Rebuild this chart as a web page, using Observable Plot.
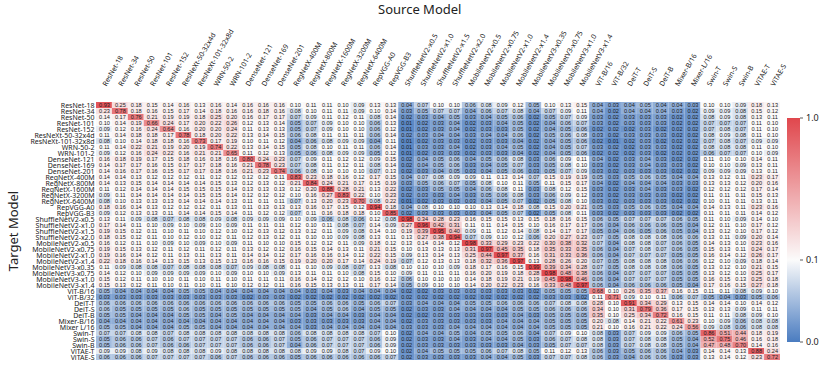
<!DOCTYPE html>
<html><head><meta charset="utf-8">
<script src="https://cdn.jsdelivr.net/npm/d3@7"></script>
<script src="https://cdn.jsdelivr.net/npm/@observablehq/plot@0.6"></script>
<style>
body{margin:0;background:#fff;}
#wrap{position:relative;width:830px;height:375px;font-family:"Noto Sans",sans-serif;overflow:hidden;}
.ttl{position:absolute;font-size:13px;color:#222;white-space:nowrap;}
</style></head><body><div id="wrap"></div>
<script>
const sources = ["ResNet-18","ResNet-34","ResNet-50","ResNet-101","ResNet-152","ResNeXt-50-32x4d","ResNeXt-101-32x8d","WRN-50-2","WRN-101-2","DenseNet-121","DenseNet-169","DenseNet-201","RegNetX-400M","RegNetX-800M","RegNetX-1600M","RegNetX-3200M","RegNetX-6400M","RepVGG-A0","RepVGG-B3","ShuffleNetV2-x0.5","ShuffleNetV2-x1.0","ShuffleNetV2-x1.5","ShuffleNetV2-x2.0","MobileNetV2-x0.5","MobileNetV2-x0.75","MobileNetV2-x1.0","MobileNetV2-x1.4","MobileNetV3-x0.35","MobileNetV3-x0.75","MobileNetV3-x1.0","MobileNetV3-x1.4","ViT-B/16","ViT-B/32","DeiT-T","DeiT-S","DeiT-B","Mixer-B/16","Mixer-L/16","Swin-T","Swin-S","Swin-B","ViTAE-T","ViTAE-S"];
const targets = ["ResNet-18","ResNet-34","ResNet-50","ResNet-101","ResNet-152","ResNeXt-50-32x4d","ResNeXt-101-32x8d","WRN-50-2","WRN-101-2","DenseNet-121","DenseNet-169","DenseNet-201","RegNetX-400M","RegNetX-800M","RegNetX-1600M","RegNetX-3200M","RegNetX-6400M","RepVGG-A0","RepVGG-B3","ShuffleNetV2-x0.5","ShuffleNetV2-x1.0","ShuffleNetV2-x1.5","ShuffleNetV2-x2.0","MobileNetV2-x0.5","MobileNetV2-x0.75","MobileNetV2-x1.0","MobileNetV2-x1.4","MobileNetV3-x0.35","MobileNetV3-x0.75","MobileNetV3-x1.0","MobileNetV3-x1.4","ViT-B/16","ViT-B/32","DeiT-T","DeiT-S","DeiT-B","Mixer-B/16","Mixer L/16","Swin-T","Swin-S","Swin-B","ViTAE-T","ViTAE-S"];

// one row per target model, one value per source model
const matrix = [
[0.93,0.25,0.18,0.15,0.14,0.16,0.13,0.16,0.14,0.16,0.16,0.16,0.10,0.11,0.11,0.10,0.09,0.13,0.13,0.04,0.07,0.10,0.10,0.06,0.08,0.09,0.12,0.05,0.10,0.13,0.15,0.04,0.03,0.04,0.05,0.04,0.04,0.03,0.10,0.10,0.09,0.18,0.13],
[0.23,0.78,0.18,0.16,0.15,0.17,0.14,0.18,0.16,0.16,0.18,0.16,0.08,0.10,0.11,0.11,0.09,0.10,0.14,0.03,0.05,0.07,0.07,0.04,0.06,0.07,0.08,0.04,0.07,0.09,0.11,0.04,0.02,0.04,0.04,0.04,0.03,0.02,0.09,0.09,0.08,0.15,0.12],
[0.14,0.17,0.76,0.21,0.19,0.19,0.18,0.25,0.20,0.16,0.17,0.17,0.07,0.09,0.11,0.12,0.11,0.08,0.14,0.02,0.03,0.04,0.05,0.03,0.04,0.05,0.06,0.02,0.05,0.07,0.09,0.03,0.02,0.03,0.03,0.03,0.02,0.02,0.08,0.09,0.08,0.13,0.11],
[0.10,0.14,0.19,0.66,0.24,0.17,0.20,0.22,0.26,0.12,0.13,0.14,0.05,0.07,0.09,0.10,0.10,0.06,0.13,0.01,0.02,0.03,0.04,0.02,0.03,0.04,0.05,0.02,0.04,0.06,0.07,0.03,0.02,0.03,0.03,0.03,0.02,0.02,0.07,0.07,0.07,0.11,0.10],
[0.09,0.12,0.16,0.24,0.64,0.16,0.20,0.20,0.24,0.11,0.13,0.13,0.05,0.07,0.09,0.10,0.10,0.06,0.12,0.01,0.02,0.03,0.04,0.02,0.03,0.03,0.05,0.02,0.04,0.05,0.06,0.02,0.02,0.02,0.03,0.02,0.02,0.02,0.07,0.08,0.07,0.11,0.10],
[0.11,0.14,0.18,0.18,0.17,0.78,0.18,0.20,0.22,0.13,0.14,0.15,0.06,0.08,0.11,0.11,0.11,0.06,0.14,0.02,0.03,0.04,0.04,0.03,0.04,0.04,0.06,0.02,0.05,0.06,0.08,0.03,0.02,0.03,0.03,0.03,0.02,0.02,0.08,0.09,0.08,0.11,0.10],
[0.08,0.10,0.14,0.18,0.18,0.16,0.73,0.17,0.19,0.10,0.11,0.12,0.04,0.06,0.08,0.09,0.09,0.04,0.11,0.01,0.02,0.03,0.03,0.02,0.03,0.03,0.04,0.02,0.04,0.05,0.06,0.02,0.01,0.02,0.03,0.02,0.02,0.02,0.07,0.08,0.07,0.09,0.09],
[0.11,0.14,0.22,0.21,0.19,0.20,0.19,0.74,0.22,0.13,0.14,0.15,0.05,0.08,0.10,0.11,0.11,0.06,0.14,0.01,0.03,0.03,0.04,0.02,0.03,0.04,0.05,0.02,0.04,0.05,0.07,0.03,0.02,0.02,0.03,0.03,0.02,0.02,0.08,0.08,0.08,0.11,0.10],
[0.09,0.12,0.16,0.24,0.22,0.16,0.21,0.21,0.65,0.11,0.12,0.13,0.05,0.06,0.08,0.09,0.09,0.05,0.12,0.01,0.02,0.03,0.03,0.02,0.03,0.03,0.04,0.02,0.04,0.05,0.06,0.02,0.02,0.02,0.03,0.02,0.02,0.02,0.06,0.07,0.07,0.10,0.09],
[0.16,0.18,0.19,0.17,0.15,0.18,0.16,0.18,0.16,0.80,0.24,0.23,0.07,0.09,0.11,0.12,0.12,0.09,0.15,0.02,0.04,0.05,0.06,0.04,0.05,0.06,0.08,0.03,0.06,0.09,0.11,0.04,0.02,0.03,0.04,0.03,0.02,0.02,0.11,0.10,0.10,0.14,0.11],
[0.14,0.17,0.17,0.16,0.15,0.17,0.17,0.18,0.16,0.21,0.78,0.23,0.07,0.08,0.11,0.12,0.11,0.08,0.14,0.02,0.04,0.05,0.06,0.03,0.04,0.05,0.07,0.03,0.05,0.08,0.10,0.03,0.02,0.03,0.04,0.03,0.03,0.02,0.10,0.10,0.09,0.13,0.11],
[0.14,0.16,0.17,0.16,0.15,0.17,0.17,0.18,0.16,0.21,0.23,0.74,0.06,0.08,0.10,0.10,0.10,0.07,0.13,0.02,0.03,0.04,0.05,0.03,0.04,0.05,0.06,0.03,0.05,0.07,0.09,0.03,0.02,0.03,0.03,0.03,0.02,0.02,0.09,0.09,0.09,0.13,0.11],
[0.14,0.14,0.13,0.12,0.12,0.12,0.11,0.12,0.12,0.12,0.12,0.11,0.83,0.23,0.18,0.16,0.12,0.17,0.15,0.04,0.07,0.08,0.09,0.09,0.11,0.13,0.14,0.07,0.15,0.19,0.19,0.05,0.03,0.05,0.06,0.05,0.04,0.04,0.13,0.12,0.11,0.23,0.17],
[0.14,0.13,0.15,0.14,0.14,0.14,0.14,0.15,0.13,0.12,0.13,0.12,0.21,0.84,0.24,0.21,0.17,0.15,0.19,0.03,0.05,0.06,0.07,0.05,0.08,0.10,0.11,0.05,0.11,0.15,0.17,0.04,0.02,0.04,0.04,0.04,0.03,0.03,0.13,0.13,0.12,0.20,0.16],
[0.11,0.12,0.14,0.14,0.14,0.15,0.15,0.15,0.14,0.13,0.13,0.13,0.12,0.20,0.88,0.28,0.21,0.13,0.22,0.02,0.03,0.05,0.05,0.04,0.06,0.08,0.11,0.03,0.08,0.12,0.15,0.03,0.02,0.03,0.04,0.03,0.03,0.02,0.12,0.12,0.12,0.17,0.14],
[0.09,0.11,0.14,0.14,0.14,0.14,0.15,0.15,0.14,0.12,0.12,0.12,0.10,0.16,0.27,0.83,0.22,0.10,0.23,0.02,0.03,0.03,0.04,0.03,0.05,0.06,0.08,0.03,0.06,0.09,0.12,0.03,0.02,0.03,0.03,0.03,0.02,0.02,0.11,0.11,0.11,0.15,0.13],
[0.08,0.10,0.13,0.13,0.13,0.14,0.14,0.14,0.13,0.11,0.11,0.11,0.07,0.13,0.20,0.23,0.70,0.08,0.22,0.01,0.02,0.03,0.03,0.03,0.04,0.05,0.07,0.02,0.05,0.08,0.10,0.03,0.02,0.03,0.03,0.03,0.02,0.02,0.10,0.11,0.11,0.13,0.11],
[0.18,0.16,0.14,0.13,0.12,0.12,0.12,0.11,0.13,0.11,0.13,0.13,0.13,0.16,0.17,0.15,0.12,0.94,0.18,0.04,0.08,0.10,0.10,0.10,0.13,0.14,0.18,0.08,0.15,0.20,0.21,0.05,0.03,0.05,0.06,0.05,0.04,0.04,0.14,0.13,0.11,0.23,0.16],
[0.09,0.12,0.13,0.13,0.11,0.14,0.14,0.15,0.14,0.11,0.12,0.12,0.07,0.11,0.16,0.18,0.18,0.10,0.85,0.02,0.03,0.03,0.03,0.03,0.04,0.05,0.07,0.02,0.05,0.08,0.11,0.03,0.02,0.03,0.03,0.03,0.02,0.02,0.11,0.11,0.11,0.14,0.12],
[0.13,0.11,0.09,0.08,0.07,0.08,0.08,0.09,0.08,0.09,0.09,0.09,0.10,0.09,0.06,0.08,0.06,0.12,0.08,0.98,0.34,0.28,0.23,0.16,0.15,0.15,0.13,0.15,0.18,0.16,0.15,0.06,0.05,0.07,0.07,0.07,0.06,0.05,0.11,0.10,0.09,0.14,0.10],
[0.17,0.14,0.11,0.10,0.09,0.10,0.09,0.10,0.09,0.11,0.11,0.11,0.12,0.10,0.11,0.08,0.07,0.14,0.09,0.27,0.96,0.42,0.31,0.11,0.11,0.14,0.15,0.10,0.16,0.17,0.17,0.06,0.04,0.06,0.06,0.06,0.05,0.04,0.12,0.11,0.10,0.17,0.12],
[0.19,0.15,0.12,0.11,0.10,0.11,0.10,0.12,0.10,0.12,0.13,0.12,0.13,0.12,0.11,0.09,0.08,0.14,0.10,0.19,0.39,0.95,0.40,0.09,0.11,0.12,0.14,0.08,0.14,0.17,0.17,0.05,0.04,0.06,0.05,0.06,0.05,0.04,0.13,0.12,0.10,0.17,0.12],
[0.18,0.15,0.12,0.11,0.10,0.12,0.10,0.12,0.11,0.12,0.13,0.12,0.11,0.10,0.10,0.09,0.08,0.13,0.11,0.13,0.27,0.38,0.94,0.07,0.09,0.10,0.12,0.06,0.20,0.27,0.23,0.07,0.05,0.08,0.08,0.08,0.06,0.06,0.13,0.11,0.09,0.20,0.14],
[0.16,0.12,0.11,0.10,0.09,0.10,0.09,0.10,0.09,0.11,0.10,0.10,0.15,0.12,0.12,0.11,0.09,0.18,0.12,0.13,0.14,0.14,0.12,0.98,0.33,0.29,0.23,0.22,0.30,0.38,0.32,0.07,0.04,0.08,0.08,0.07,0.06,0.05,0.14,0.13,0.10,0.23,0.16],
[0.19,0.15,0.13,0.12,0.11,0.12,0.11,0.12,0.11,0.13,0.12,0.12,0.16,0.15,0.14,0.13,0.11,0.21,0.15,0.10,0.13,0.13,0.13,0.31,0.97,0.45,0.35,0.18,0.35,0.33,0.35,0.06,0.04,0.07,0.08,0.07,0.06,0.05,0.15,0.13,0.11,0.24,0.17],
[0.19,0.16,0.14,0.12,0.11,0.13,0.11,0.13,0.11,0.14,0.14,0.12,0.17,0.16,0.16,0.14,0.12,0.22,0.15,0.09,0.13,0.14,0.13,0.25,0.44,0.97,0.37,0.16,0.31,0.33,0.36,0.06,0.04,0.07,0.07,0.07,0.05,0.05,0.16,0.14,0.12,0.26,0.17],
[0.22,0.18,0.16,0.14,0.13,0.15,0.13,0.15,0.13,0.16,0.16,0.15,0.19,0.20,0.20,0.17,0.14,0.24,0.19,0.07,0.12,0.13,0.13,0.18,0.32,0.36,0.97,0.13,0.28,0.26,0.20,0.07,0.05,0.08,0.08,0.08,0.06,0.06,0.12,0.10,0.09,0.18,0.14],
[0.11,0.09,0.08,0.08,0.07,0.08,0.08,0.08,0.07,0.09,0.08,0.08,0.11,0.10,0.09,0.08,0.07,0.13,0.08,0.10,0.10,0.10,0.09,0.18,0.17,0.16,0.15,0.99,0.39,0.34,0.28,0.07,0.05,0.08,0.08,0.08,0.06,0.05,0.13,0.12,0.10,0.21,0.15],
[0.14,0.12,0.10,0.09,0.09,0.09,0.09,0.10,0.09,0.10,0.10,0.09,0.13,0.11,0.11,0.10,0.08,0.15,0.10,0.09,0.11,0.11,0.11,0.16,0.20,0.19,0.18,0.28,0.98,0.48,0.38,0.06,0.04,0.07,0.07,0.07,0.05,0.05,0.13,0.12,0.10,0.25,0.17],
[0.15,0.12,0.11,0.10,0.10,0.11,0.10,0.11,0.10,0.11,0.11,0.11,0.16,0.14,0.12,0.12,0.10,0.16,0.12,0.06,0.10,0.10,0.10,0.14,0.18,0.19,0.21,0.19,0.45,0.98,0.46,0.06,0.04,0.07,0.07,0.07,0.05,0.05,0.16,0.15,0.13,0.25,0.18],
[0.15,0.13,0.12,0.11,0.10,0.11,0.10,0.11,0.10,0.12,0.12,0.11,0.16,0.15,0.13,0.13,0.11,0.17,0.14,0.05,0.09,0.10,0.10,0.14,0.20,0.22,0.23,0.16,0.33,0.48,0.97,0.06,0.04,0.06,0.06,0.06,0.05,0.04,0.17,0.16,0.15,0.27,0.18],
[0.05,0.04,0.04,0.04,0.04,0.05,0.05,0.04,0.04,0.04,0.04,0.04,0.04,0.03,0.04,0.03,0.04,0.04,0.04,0.02,0.02,0.03,0.03,0.03,0.03,0.03,0.03,0.02,0.05,0.05,0.05,0.68,0.10,0.26,0.35,0.37,0.16,0.15,0.11,0.11,0.08,0.09,0.10],
[0.03,0.03,0.03,0.03,0.03,0.03,0.03,0.03,0.03,0.02,0.03,0.03,0.02,0.02,0.02,0.02,0.02,0.02,0.02,0.02,0.02,0.02,0.02,0.02,0.02,0.02,0.02,0.02,0.03,0.03,0.02,0.11,0.71,0.09,0.10,0.11,0.06,0.07,0.05,0.04,0.03,0.05,0.06],
[0.06,0.06,0.06,0.06,0.06,0.06,0.06,0.06,0.06,0.06,0.06,0.06,0.05,0.05,0.06,0.06,0.05,0.06,0.07,0.03,0.04,0.04,0.04,0.05,0.05,0.06,0.06,0.06,0.07,0.08,0.08,0.28,0.10,0.91,0.34,0.29,0.13,0.15,0.14,0.14,0.10,0.14,0.12],
[0.06,0.05,0.05,0.05,0.05,0.06,0.05,0.05,0.05,0.05,0.05,0.05,0.05,0.04,0.05,0.06,0.04,0.05,0.05,0.02,0.03,0.03,0.04,0.04,0.04,0.04,0.05,0.05,0.06,0.06,0.06,0.34,0.10,0.31,0.79,0.36,0.17,0.15,0.13,0.13,0.09,0.11,0.11],
[0.05,0.05,0.04,0.04,0.04,0.05,0.05,0.04,0.05,0.04,0.04,0.04,0.04,0.03,0.04,0.04,0.03,0.04,0.04,0.02,0.02,0.03,0.03,0.03,0.03,0.03,0.04,0.03,0.05,0.05,0.05,0.35,0.10,0.25,0.34,0.72,0.16,0.15,0.11,0.11,0.08,0.09,0.10],
[0.04,0.04,0.04,0.04,0.04,0.04,0.04,0.04,0.04,0.04,0.04,0.04,0.03,0.03,0.03,0.03,0.03,0.04,0.04,0.02,0.03,0.03,0.03,0.03,0.03,0.04,0.04,0.04,0.05,0.05,0.05,0.20,0.08,0.14,0.21,0.22,0.61,0.23,0.10,0.09,0.06,0.08,0.08],
[0.05,0.05,0.04,0.04,0.04,0.05,0.05,0.04,0.04,0.04,0.04,0.04,0.04,0.03,0.04,0.04,0.04,0.04,0.04,0.03,0.03,0.03,0.04,0.04,0.04,0.04,0.04,0.04,0.05,0.05,0.05,0.21,0.10,0.16,0.21,0.22,0.24,0.56,0.09,0.08,0.06,0.08,0.08],
[0.07,0.07,0.08,0.08,0.07,0.08,0.08,0.08,0.08,0.08,0.08,0.08,0.06,0.08,0.08,0.08,0.08,0.07,0.10,0.02,0.04,0.04,0.05,0.04,0.05,0.05,0.06,0.04,0.07,0.09,0.10,0.08,0.03,0.07,0.09,0.09,0.06,0.05,0.86,0.51,0.44,0.18,0.19],
[0.05,0.06,0.06,0.07,0.06,0.07,0.07,0.07,0.07,0.06,0.06,0.07,0.05,0.06,0.07,0.07,0.07,0.06,0.09,0.02,0.03,0.03,0.04,0.03,0.04,0.04,0.05,0.03,0.06,0.07,0.08,0.08,0.03,0.07,0.08,0.08,0.05,0.04,0.52,0.75,0.46,0.16,0.18],
[0.05,0.06,0.06,0.07,0.06,0.06,0.07,0.07,0.07,0.06,0.06,0.07,0.04,0.06,0.07,0.07,0.07,0.06,0.09,0.02,0.03,0.03,0.03,0.03,0.03,0.03,0.04,0.03,0.05,0.07,0.07,0.08,0.03,0.07,0.08,0.08,0.05,0.04,0.47,0.48,0.70,0.14,0.16],
[0.09,0.09,0.08,0.09,0.08,0.08,0.08,0.09,0.08,0.08,0.08,0.08,0.08,0.09,0.09,0.08,0.07,0.09,0.10,0.02,0.04,0.05,0.05,0.05,0.06,0.07,0.08,0.05,0.11,0.12,0.13,0.06,0.03,0.05,0.06,0.06,0.04,0.03,0.14,0.14,0.13,0.88,0.24],
[0.06,0.06,0.06,0.07,0.07,0.07,0.07,0.06,0.07,0.06,0.06,0.06,0.05,0.06,0.06,0.06,0.06,0.06,0.07,0.02,0.03,0.03,0.03,0.03,0.04,0.04,0.05,0.03,0.07,0.07,0.08,0.06,0.03,0.04,0.06,0.06,0.03,0.03,0.13,0.14,0.12,0.23,0.72]
];

const colorDomain = [0, 0.1, 1];
const colorRange = ["#4a7cc0", "#fbfbfb", "#e0474d"];
const colorbarTicks = [0, 0.1, 1];
const colorbarTickLabels = ["0.0", "0.1", "1.0"];

const cells = [];
targets.forEach((t, i) => sources.forEach((s, j) => cells.push({source: s, target: t, value: matrix[i][j]})));

const LABEL_FONT = "'Noto Sans', sans-serif";
const NUM_FONT = "'Liberation Sans', Arial, sans-serif";
const chart = Plot.plot({
  width: 830, height: 375,
  marginLeft: 96, marginTop: 87, marginRight: 50, marginBottom: 1,
  style: {fontFamily: LABEL_FONT, background: "white", color: "#222"},
  x: {domain: sources, padding: 0, axis: null},
  y: {domain: targets, padding: 0, axis: null},
  color: {type: "linear", domain: colorDomain, range: colorRange, interpolate: "rgb", clamp: true},
  marks: [
    Plot.cell(cells, {x: "source", y: "target", fill: "value", inset: 0}),
    Plot.text(cells, {x: "source", y: "target", text: d => d.value.toFixed(2), fontSize: 5.6, fontFamily: NUM_FONT, fill: "#1a1a1a"}),
    Plot.axisX({anchor: "top", tickRotate: -60, tickSize: 0, tickPadding: 2, fontSize: 7, label: null}),
    Plot.axisY({anchor: "left", tickSize: 0, tickPadding: 2, fontSize: 7, label: null})
  ]
});
const wrap = document.getElementById("wrap");
wrap.appendChild(chart);

// titles
const t1 = document.createElement("div");
t1.className = "ttl"; t1.textContent = "Source Model";
t1.style.left = "378px"; t1.style.top = "0px";
wrap.appendChild(t1);
const t2 = document.createElement("div");
t2.className = "ttl"; t2.textContent = "Target Model";
t2.style.left = "-27px"; t2.style.top = "222px"; t2.style.transform = "rotate(-90deg)";
wrap.appendChild(t2);

// colorbar built from the same color scale
const colorScale = chart.scale("color");
const cbTop = 118, cbBottom = 342, cbX = 787, cbW = 13;
const cbPos = d3.scaleLinear().domain([0, 0.1, 1]).range([cbBottom, 260, cbTop]);
const svg = d3.select(wrap).append("svg")
  .attr("width", 830).attr("height", 375)
  .style("position", "absolute").style("left", "0px").style("top", "0px")
  .style("font-family", LABEL_FONT);
const grad = svg.append("defs").append("linearGradient").attr("id", "cbg")
  .attr("x1", 0).attr("y1", 1).attr("x2", 0).attr("y2", 0);
d3.range(0, 1.0001, 0.01).forEach(v => {
  grad.append("stop").attr("offset", (cbBottom - cbPos(v)) / (cbBottom - cbTop)).attr("stop-color", colorScale.apply(v));
});
svg.append("rect").attr("x", cbX).attr("y", cbTop).attr("width", cbW).attr("height", cbBottom - cbTop).attr("fill", "url(#cbg)");
colorbarTicks.forEach((v, i) => {
  svg.append("line").attr("x1", cbX + cbW).attr("x2", cbX + cbW + 3).attr("y1", cbPos(v)).attr("y2", cbPos(v)).attr("stroke", "#333").attr("stroke-width", 0.8);
  svg.append("text").attr("x", cbX + cbW + 6).attr("y", cbPos(v)).attr("dy", "0.35em").attr("font-size", 9).attr("fill", "#222").text(colorbarTickLabels[i]);
});
</script></body></html>
